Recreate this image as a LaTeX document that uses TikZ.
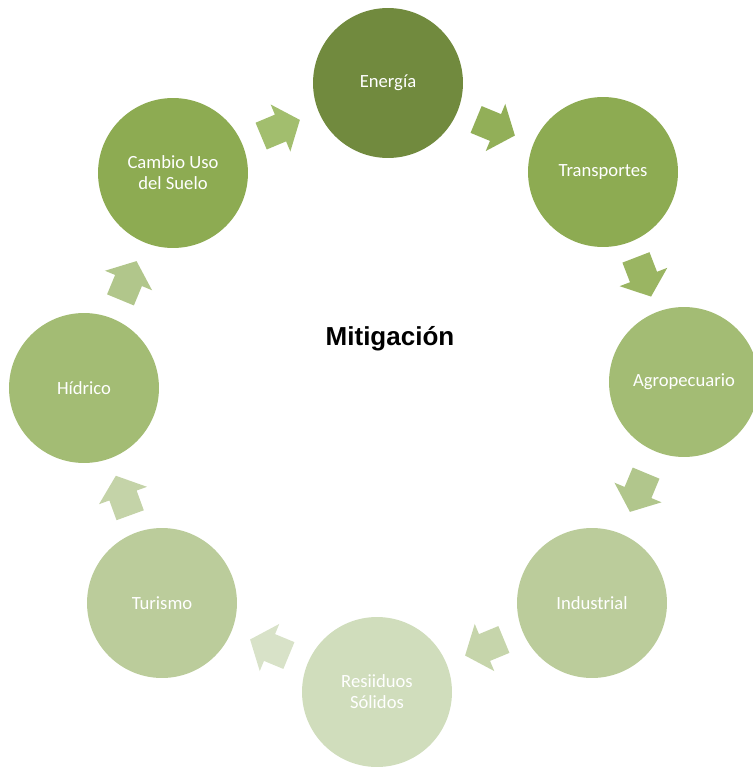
\documentclass[tikz,border=0pt]{standalone}
\usepackage{fontspec}
\setmainfont{Carlito}
\newfontfamily\titlefont{Liberation Sans}
\usetikzlibrary{calc}

\definecolor{enerfill}{HTML}{718A3E}
\definecolor{darkfill}{HTML}{8DAB52}
\definecolor{midfill}{HTML}{A3BC74}
\definecolor{lightfill}{HTML}{BBCC9B}
\definecolor{palefill}{HTML}{D0DDBC}
\definecolor{arrowA}{HTML}{92AF58}
\definecolor{arrowB}{HTML}{9AB562}
\definecolor{arrowC}{HTML}{B1C68C}
\definecolor{arrowD}{HTML}{C6D5AB}
\definecolor{arrowE}{HTML}{D8E2C8}
\definecolor{arrowF}{HTML}{C4D3A8}
\definecolor{arrowG}{HTML}{B1C68B}
\definecolor{arrowH}{HTML}{A2BE6E}

\tikzset{
  sector/.style={circle, fill=#1, minimum size=3cm, inner sep=0pt,
    text=white, align=center, font=\fontsize{10.6}{12}\selectfont}
}

% block arrow half way between two sectors
\newcommand{\cyclearrow}[3]{%
  \path let \p1=($(#2)-(#1)$), \n1={atan2(\y1,\x1)} in
    \pgfextra{\xdef\arrowangle{\n1}};
  \fill[#3, shift={($(#1)!0.5!(#2)$)}, rotate=\arrowangle]
    (-21,14.5) -- (0,14.5) -- (0,25.5) -- (21,0) -- (0,-25.5)
    -- (0,-14.5) -- (-21,-14.5) -- cycle;
}

\begin{document}
\begin{tikzpicture}[x=0.02cm, y=0.02cm]
  \useasboundingbox (0,0) rectangle (752,-767);
      \node[sector=enerfill] (ener) at (388,-83) {Energía};
      \node[sector=darkfill] (trans) at (603,-172) {Transportes};
      \node[sector=midfill] (agro) at (684,-382) {Agropecuario};
      \node[sector=lightfill] (indus) at (592,-603) {Industrial};
      \node[sector=palefill] (resid) at (377,-692) {Resiiduos\\Sólidos};
      \node[sector=lightfill] (tur) at (162,-603) {Turismo};
      \node[sector=midfill] (hid) at (84,-388) {Hídrico};
      \node[sector=darkfill] (cambio) at (173,-173) {Cambio Uso\\del Suelo};
      \node[font=\titlefont\bfseries\fontsize{14.8}{17}\selectfont] (title)
        at (390,-339) {Mitigación};
      \foreach \a/\b/\c in {ener/trans/arrowA, trans/agro/arrowB,
          agro/indus/arrowC, indus/resid/arrowD, resid/tur/arrowE,
          tur/hid/arrowF, hid/cambio/arrowG, cambio/ener/arrowH}
        \cyclearrow{\a}{\b}{\c};
  \end{tikzpicture}
\end{document}
